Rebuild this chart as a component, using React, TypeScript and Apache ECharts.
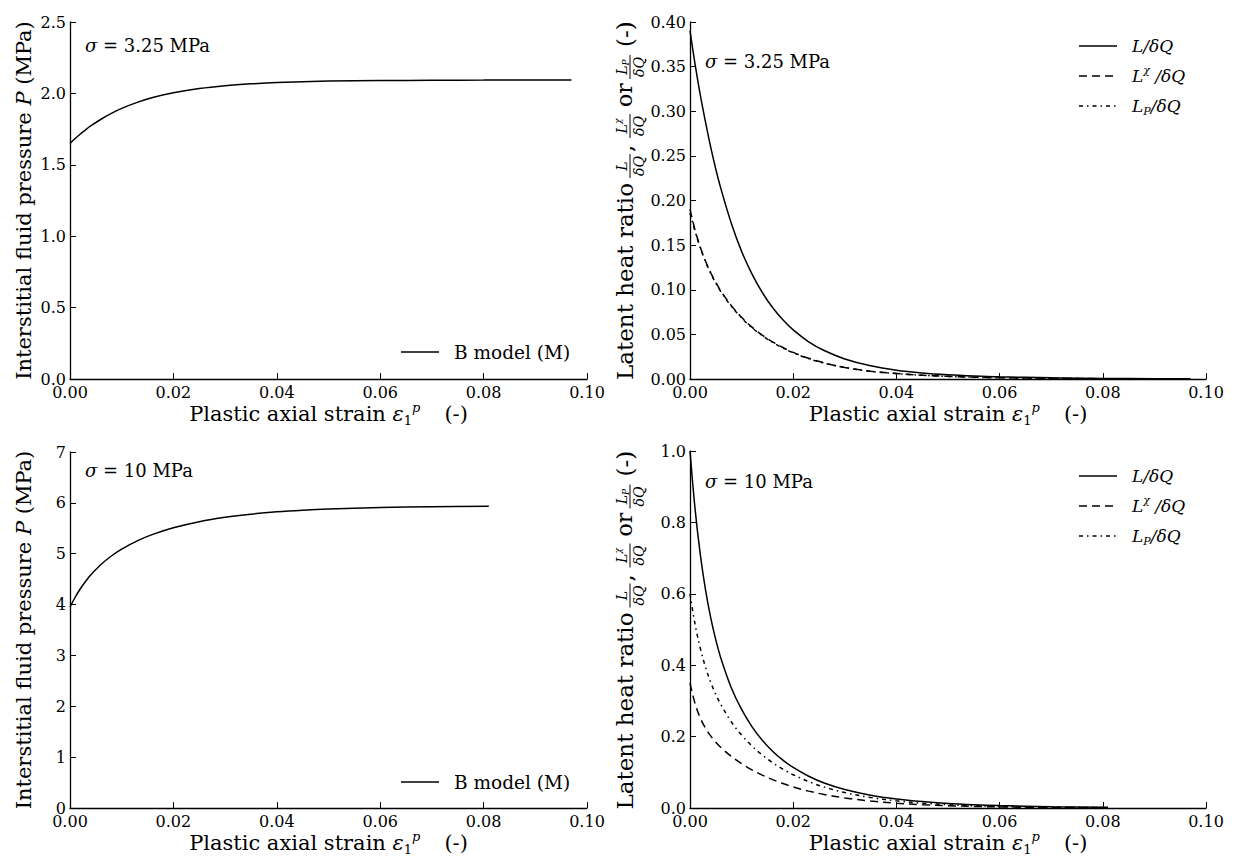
import { useEffect, useRef } from 'react';
import * as echarts from 'echarts';

// ---------- data ----------
// Top-left: sigma = 3.25 MPa, interstitial fluid pressure (MPa)
const strainP1 = [0, 0.001, 0.002, 0.003, 0.004, 0.006, 0.008, 0.010, 0.013, 0.016, 0.020, 0.025, 0.030, 0.035, 0.040, 0.050, 0.060, 0.070, 0.080, 0.090, 0.097];
const pressure1 = [1.650, 1.684, 1.716, 1.745, 1.772, 1.819, 1.860, 1.895, 1.937, 1.971, 2.004, 2.034, 2.054, 2.067, 2.076, 2.086, 2.090, 2.092, 2.093, 2.094, 2.094];

// Bottom-left: sigma = 10 MPa
const strainP2 = [0, 0.001, 0.002, 0.003, 0.004, 0.006, 0.008, 0.010, 0.013, 0.016, 0.020, 0.025, 0.030, 0.035, 0.040, 0.045, 0.050, 0.060, 0.070, 0.081];
const pressure2 = [3.95, 4.144, 4.311, 4.455, 4.581, 4.789, 4.955, 5.091, 5.253, 5.380, 5.511, 5.630, 5.716, 5.778, 5.823, 5.855, 5.878, 5.908, 5.923, 5.932];

// Top-right: sigma = 3.25 MPa, latent heat ratios
const strainL1 = [0, 0.001, 0.002, 0.003, 0.004, 0.005, 0.006, 0.008, 0.010, 0.012, 0.014, 0.016, 0.018, 0.020, 0.023, 0.026, 0.030, 0.035, 0.040, 0.045, 0.050, 0.055, 0.060, 0.070, 0.080, 0.090, 0.097];
const ratioL1 = [0.390, 0.352, 0.318, 0.288, 0.260, 0.235, 0.213, 0.1745, 0.143, 0.1178, 0.0971, 0.0801, 0.0663, 0.0550, 0.0417, 0.0319, 0.0225, 0.0148, 0.0099, 0.0068, 0.00475, 0.0034, 0.00245, 0.00135, 0.0007, 0.00042, 0.0003];
const ratioLX1 = [0.190, 0.1665, 0.1476, 0.1323, 0.1192, 0.1082, 0.0984, 0.0822, 0.0692, 0.0581, 0.0492, 0.0416, 0.0353, 0.0298, 0.0232, 0.0181, 0.0130, 0.0087, 0.0062, 0.0043, 0.0030, 0.0021, 0.0015, 0.0008, 0.0004, 0.0002, 0.0001];
const ratioLP1 = [0.186, 0.165, 0.147, 0.1315, 0.1185, 0.1075, 0.0978, 0.0815, 0.0685, 0.0575, 0.0486, 0.0410, 0.0347, 0.0293, 0.0228, 0.0178, 0.0128, 0.0085, 0.0061, 0.0042, 0.0029, 0.0020, 0.0014, 0.0007, 0.0003, 0.0002, 0.0001];

// Bottom-right: sigma = 10 MPa
const strainL2 = [0, 0.001, 0.002, 0.003, 0.004, 0.005, 0.006, 0.008, 0.010, 0.012, 0.014, 0.016, 0.018, 0.020, 0.023, 0.026, 0.030, 0.035, 0.040, 0.045, 0.050, 0.055, 0.060, 0.070, 0.081];
const ratioL2 = [1.000, 0.835, 0.710, 0.612, 0.534, 0.471, 0.419, 0.337, 0.276, 0.228, 0.190, 0.159, 0.134, 0.1135, 0.089, 0.0702, 0.0518, 0.0359, 0.0252, 0.018, 0.0129, 0.0094, 0.0069, 0.0037, 0.0019];
const ratioLX2 = [0.350, 0.2914, 0.252, 0.2236, 0.2019, 0.1843, 0.1693, 0.1446, 0.1242, 0.107, 0.0922, 0.0795, 0.0685, 0.0591, 0.0473, 0.0379, 0.0282, 0.0195, 0.0134, 0.0093, 0.0064, 0.0044, 0.0031, 0.0015, 0.0006];
const ratioLP2 = [0.600, 0.513, 0.447, 0.395, 0.3525, 0.318, 0.289, 0.2413, 0.2041, 0.1738, 0.1484, 0.127, 0.1088, 0.0932, 0.074, 0.0587, 0.0432, 0.0294, 0.020, 0.0136, 0.0093, 0.0063, 0.0043, 0.002, 0.0009];

const sigmaLabels = ['3.25', '10'];
const xTitle = 'Plastic axial strain {e|ε}{s|1}{p|p}{g| }(-)';
const yTitleLeft = 'Interstitial fluid pressure {i|P} (MPa)';
const legendModel = 'B model (M)';

const SERIF = 'DejaVu Serif';
const F = (size: number, italic = false) => `${italic ? 'italic ' : ''}${size}px 'DejaVu Serif', serif`;
const DASH = [8, 5];
const DASHDOT = [4, 4, 1.5, 4];

const pairs = (xs: number[], ys: number[]) => xs.map((x, i) => [x, ys[i]]);

export default function App() {
  const ref = useRef<HTMLDivElement>(null);
  useEffect(() => {
    const chart = echarts.init(ref.current!, null, { renderer: 'svg' });

    const grids = [
      { left: 70, top: 22, width: 517, height: 357 },
      { left: 690, top: 22, width: 516, height: 357 },
      { left: 70, top: 452, width: 517, height: 356 },
      { left: 690, top: 451, width: 516, height: 357 },
    ].map((g) => ({ ...g, containLabel: false, outerBoundsMode: 'none' }));

    const axisLineStyle = { color: '#000', width: 1.3 };
    const labelStyle = { color: '#000', fontFamily: SERIF, fontSize: 16 };

    const xAxis = [0, 1, 2, 3].map((gi) => ({
      type: 'value',
      gridIndex: gi,
      min: 0,
      max: 0.1,
      interval: 0.02,
      axisLine: { show: true, onZero: false, lineStyle: axisLineStyle },
      axisTick: { show: true, inside: true, length: 6, lineStyle: { color: '#000', width: 1 } },
      splitLine: { show: false },
      axisLabel: { ...labelStyle, margin: 5, showMinLabel: true, showMaxLabel: true, formatter: (v: number) => v.toFixed(2) },
      name: xTitle,
      nameLocation: 'middle',
      nameGap: 15,
      nameTextStyle: {
        fontFamily: SERIF, fontSize: 21, color: '#000', lineHeight: 26,
        rich: {
          e: { fontFamily: SERIF, fontSize: 21, fontStyle: 'italic', lineHeight: 26, color: '#000' },
          s: { fontFamily: SERIF, fontSize: 13, lineHeight: 13, verticalAlign: 'bottom', color: '#000' },
          p: { fontFamily: SERIF, fontSize: 13, fontStyle: 'italic', lineHeight: 13, verticalAlign: 'top', color: '#000' },
          g: { fontFamily: SERIF, fontSize: 21, width: 24, color: '#000' },
        },
      },
    }));

    const yCfg = [
      { max: 2.5, interval: 0.5, dec: 1 },
      { max: 0.4, interval: 0.05, dec: 2 },
      { max: 7, interval: 1, dec: 0 },
      { max: 1.0, interval: 0.2, dec: 1 },
    ];
    const yAxis = yCfg.map((c, gi) => ({
      type: 'value',
      gridIndex: gi,
      min: 0,
      max: c.max,
      interval: c.interval,
      axisLine: { show: true, onZero: false, lineStyle: axisLineStyle },
      axisTick: { show: true, inside: true, length: 6, lineStyle: { color: '#000', width: 1 } },
      splitLine: { show: false },
      axisLabel: { ...labelStyle, margin: 4, showMinLabel: true, showMaxLabel: true, formatter: (v: number) => v.toFixed(c.dec) },
      ...(gi % 2 === 0
        ? {
            name: yTitleLeft,
            nameLocation: 'middle',
            nameGap: 36,
            nameTextStyle: {
              fontFamily: SERIF, fontSize: 21, color: '#000',
              rich: { i: { fontFamily: SERIF, fontSize: 21, fontStyle: 'italic', color: '#000' } },
            },
          }
        : {}),
    }));

    const line = (xs: number[], ys: number[], gi: number, type: any, name: string) => ({
      type: 'line',
      name,
      xAxisIndex: gi,
      yAxisIndex: gi,
      data: pairs(xs, ys),
      showSymbol: false,
      symbol: 'none',
      smooth: 0.35,
      silent: true,
      lineStyle: { color: '#000', width: 1.5, type },
    });

    const series = [
      line(strainP1, pressure1, 0, 'solid', 'B model (M) σ=3.25'),
      line(strainL1, ratioL1, 1, 'solid', 'L/δQ σ=3.25'),
      line(strainL1, ratioLX1, 1, DASH, 'Lχ/δQ σ=3.25'),
      line(strainL1, ratioLP1, 1, DASHDOT, 'LP/δQ σ=3.25'),
      line(strainP2, pressure2, 2, 'solid', 'B model (M) σ=10'),
      line(strainL2, ratioL2, 3, 'solid', 'L/δQ σ=10'),
      line(strainL2, ratioLX2, 3, DASH, 'Lχ/δQ σ=10'),
      line(strainL2, ratioLP2, 3, DASHDOT, 'LP/δQ σ=10'),
    ];

    const mathRich = {
      i: { font: F(17, true), fill: '#000', lineHeight: 22 },
      sup: { font: F(11, true), fill: '#000', verticalAlign: 'top', lineHeight: 11 },
      sub: { font: F(11, true), fill: '#000', verticalAlign: 'bottom', lineHeight: 11 },
    };

    const sigmaText = (x: number, y: number, val: string) => ({
      type: 'text', x, y, silent: true,
      style: {
        text: `{i|σ} {r|= ${val} MPa}`, font: F(18), fill: '#000', verticalAlign: 'middle',
        rich: {
          i: { font: F(18, true), fill: '#000' },
          r: { font: F(18), fill: '#000' },
        },
      },
    });

    const legendRows = ['{i|L/δQ}', '{i|L}{sup|χ}{i| /δQ}', '{i|L}{sub|P}{i|/δQ}'];
    const legendDashes: any[] = [null, DASH, DASHDOT];
    const latentLegend = (x: number, y: number) =>
      legendRows.flatMap((t, k) => [
        {
          type: 'line', silent: true,
          shape: { x1: x, y1: y + k * 30, x2: x + 38, y2: y + k * 30 },
          style: { stroke: '#000', lineWidth: 1.5, lineDash: legendDashes[k] },
        },
        {
          type: 'text', x: x + 53, y: y + k * 30, silent: true,
          style: { text: t, font: F(17, true), fill: '#000', verticalAlign: 'middle', rich: mathRich },
        },
      ]);

    const modelLegend = (x: number, y: number) => [
      { type: 'line', silent: true, shape: { x1: x, y1: y, x2: x + 38, y2: y }, style: { stroke: '#000', lineWidth: 1.5 } },
      {
        type: 'text', x: x + 53, y, silent: true,
        style: { text: legendModel, font: F(18.5), fill: '#000', verticalAlign: 'middle' },
      },
    ];

    const fracRich = {
      i: { font: F(14, true), fill: '#000', lineHeight: 17 },
      sup: { font: F(9, true), fill: '#000', verticalAlign: 'top', lineHeight: 9 },
      sub: { font: F(9, true), fill: '#000', verticalAlign: 'bottom', lineHeight: 9 },
    };
    const frac = (cx: number, num: string) => [
      { type: 'text', x: cx, y: -11, style: { text: num, font: F(14, true), fill: '#000', align: 'center', verticalAlign: 'middle', rich: fracRich } },
      { type: 'line', shape: { x1: cx - 12, y1: -3, x2: cx + 12, y2: -3 }, style: { stroke: '#000', lineWidth: 1 } },
      { type: 'text', x: cx, y: 5.5, style: { text: '{i|δQ}', font: F(14, true), fill: '#000', align: 'center', verticalAlign: 'middle', rich: fracRich } },
    ];
    const mainText = (x: number, t: string, size = 23) => ({
      type: 'text', x, y: -8.5,
      style: { text: t, font: F(size), fill: '#000', verticalAlign: 'middle' },
    });
    const latentTitle = (gx: number, gy: number) => ({
      type: 'group', x: gx, y: gy, rotation: Math.PI / 2, silent: true,
      children: [
        mainText(0, 'Latent heat ratio'),
        ...frac(214, '{i|L}'),
        mainText(228, ','),
        ...frac(254, '{i|L}{sup|χ}'),
        mainText(273, 'or', 22),
        ...frac(313, '{i|L}{sub|P}'),
        mainText(333, '(-)'),
      ],
    });

    const graphic = [
      sigmaText(85, 45, sigmaLabels[0]),
      sigmaText(705, 61, sigmaLabels[0]),
      sigmaText(85, 470, sigmaLabels[1]),
      sigmaText(705, 481, sigmaLabels[1]),
      ...modelLegend(401, 352),
      ...modelLegend(401, 782),
      ...latentLegend(1079, 46),
      ...latentLegend(1079, 476),
      latentTitle(633, 380),
      latentTitle(633, 809.5),
    ];

    chart.setOption({
      animation: false,
      backgroundColor: '#fff',
      textStyle: { fontFamily: SERIF },
      grid: grids,
      xAxis,
      yAxis,
      series,
      graphic,
    } as any);

    return () => chart.dispose();
  }, []);

  return (
    <div
      ref={ref}
      style={{ position: 'fixed', left: 0, top: 0, width: 1236, height: 866, background: '#fff' }}
    />
  );
}
